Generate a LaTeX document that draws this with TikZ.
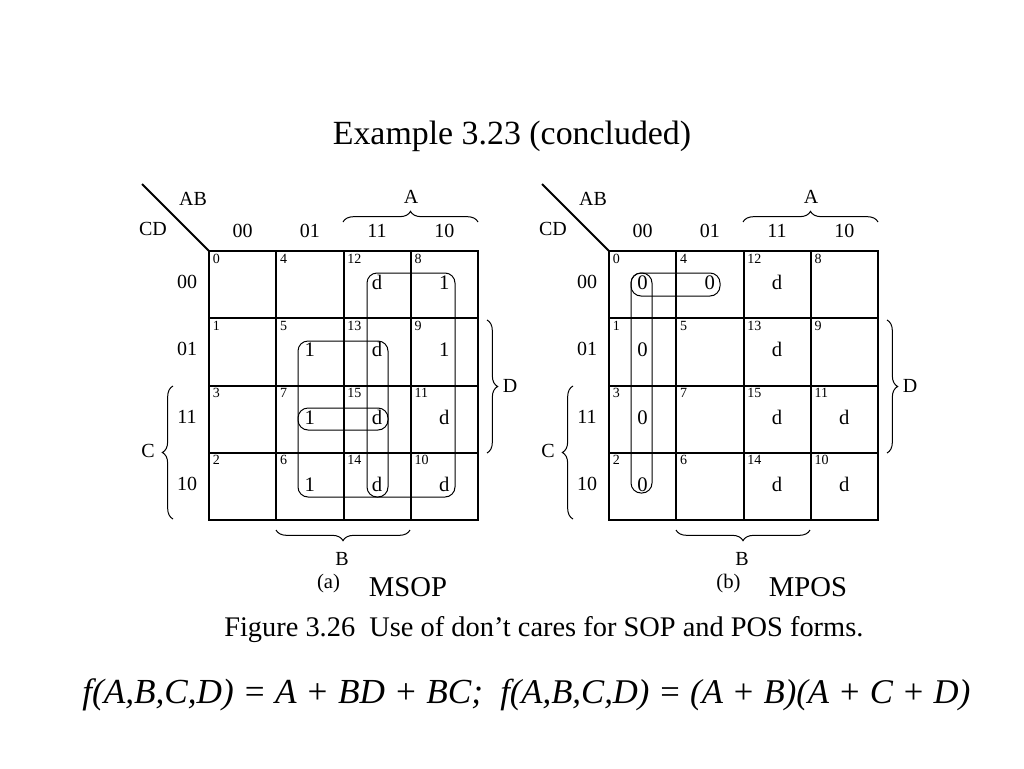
\documentclass[tikz,border=0pt]{standalone}
\usepackage{fontspec}
\setmainfont{Liberation Serif}
\usetikzlibrary{decorations.pathreplacing}
\begin{document}
\begin{tikzpicture}[x=0.75pt,y=-0.75pt,
  kgrid/.style={line width=1.5pt},
  kloop/.style={line width=0.75pt, rounded corners=7.5pt},
  lbl/.style={font=\fontsize{15}{18}\selectfont, inner sep=0pt, anchor=base},
  cellnum/.style={font=\fontsize{10.5}{12}\selectfont, inner sep=0pt, anchor=base west},
  val/.style={font=\fontsize{15.5}{18}\selectfont, inner sep=0pt, anchor=base},
  brc/.style={decorate, decoration={brace, amplitude=8pt}, line width=0.75pt},
  sub/.style={font=\fontsize{15.5}{18}\selectfont, inner sep=0pt, anchor=base},
  big/.style={font=\fontsize{21.5}{25}\selectfont, inner sep=0pt, anchor=base},
]
\useasboundingbox (0,0) rectangle (1024,768);
\node[font=\fontsize{25.4}{30}\selectfont, inner sep=0pt, anchor=base] (title) at (512,144) {Example 3.23 (concluded)};

\foreach \p/\dx in {L/0,R/400}{
 \begin{scope}[shift={(\dx,0)}]
  \draw[kgrid] (209,251) rectangle (478,520);
  \foreach \i in {1,2,3}{
    \draw[kgrid] ({209+67.25*\i},251) -- ({209+67.25*\i},520);
    \draw[kgrid] (209,{251+67.25*\i}) -- (478,{251+67.25*\i});
  }
  \coordinate (\p-corner) at (209,251);
  \coordinate (\p-diag) at (142,184);
  \draw[line width=1.5pt] (\p-diag) -- (\p-corner);
  \node[lbl] (\p-AB) at (193,205) {AB};
  \node[lbl] (\p-CD) at (153,235) {CD};
  \foreach \c/\t in {0/00,1/01,2/11,3/10}{
    \node[lbl] (\p-col\c) at ({242.6+67.25*\c},237) {\t};
    \node[lbl] (\p-row\c) at (187,{288.6+67.25*\c}) {\t};
  }
  \foreach \c/\cc in {0/0,1/4,2/12,3/8}{
    \foreach \r/\rc in {0/0,1/1,2/3,3/2}{
      \pgfmathtruncatemacro\n{\cc+\rc}
      \node[cellnum] (\p-n\n) at ({209+67.25*\c+3.5},{251+67.25*\r+12}) {\n};
    }
  }
  % braces
  \coordinate (\p-a1) at (343,222); \coordinate (\p-a2) at (478,222);
  \draw[brc] (\p-a1) -- (\p-a2);
  \node[lbl] (\p-A) at (411,203) {A};
  \coordinate (\p-d1) at (487,320); \coordinate (\p-d2) at (487,453);
  \draw[brc] (\p-d1) -- (\p-d2);
  \node[lbl] (\p-D) at (510,392) {D};
  \coordinate (\p-c1) at (173,519); \coordinate (\p-c2) at (173,386);
  \draw[brc] (\p-c1) -- (\p-c2);
  \node[lbl] (\p-C) at (148,457) {C};
  \coordinate (\p-b1) at (410,530); \coordinate (\p-b2) at (276,530);
  \draw[brc] (\p-b1) -- (\p-b2);
  \node[lbl] (\p-B) at (342,565) {B};
 \end{scope}
}

% values, left map
\foreach \c/\r/\v/\n in {2/0/d/12,3/0/1/8,1/1/1/5,2/1/d/13,3/1/1/9,1/2/1/7,2/2/d/15,3/2/d/11,1/3/1/6,2/3/d/14,3/3/d/10}{
  \node[val] (L-v\n) at ({242.6+67.25*\c},{289.6+67.25*\r}) {\v};
}
% values, right map
\foreach \c/\r/\v/\n in {0/0/0/0,1/0/0/4,2/0/d/12,0/1/0/1,2/1/d/13,0/2/0/3,2/2/d/15,3/2/d/11,0/3/0/2,2/3/d/14,3/3/d/10}{
  \node[val] (R-v\n) at ({642.6+67.25*\c},{289.6+67.25*\r}) {\v};
}

% loops, left map
\draw[kloop] (367,273) rectangle (455,497);
\draw[kloop] (298,341) rectangle (388,430);
\draw[kloop] (298,408) rectangle (388,497);
% loops, right map
\draw[kloop] (631,273) rectangle (720,296);
\draw[kloop] (631,273) rectangle (652,493);

\node[sub] (La) at (328.5,588.5) {(a)};
\node[big] (Lname) at (408,596) {MSOP};
\node[sub] (Rb) at (728.5,588.5) {(b)};
\node[big] (Rname) at (808,596) {MPOS};

\node[font=\fontsize{21.3}{25}\selectfont, inner sep=0pt, anchor=base west] (caption) at (224,636) {Figure 3.26\ \ Use of don’t cares for SOP and POS forms.};

\node[font=\fontsize{26.4}{30}\selectfont\itshape, inner sep=0pt, anchor=base west] (f1) at (82,703) {f(A,B,C,D) = A + BD + BC;};
\node[font=\fontsize{26}{30}\selectfont\itshape, inner sep=0pt, anchor=base west] (f2) at (500,703) {f(A,B,C,D) = (A + B)(A + C + D)};
\end{tikzpicture}
\end{document}
